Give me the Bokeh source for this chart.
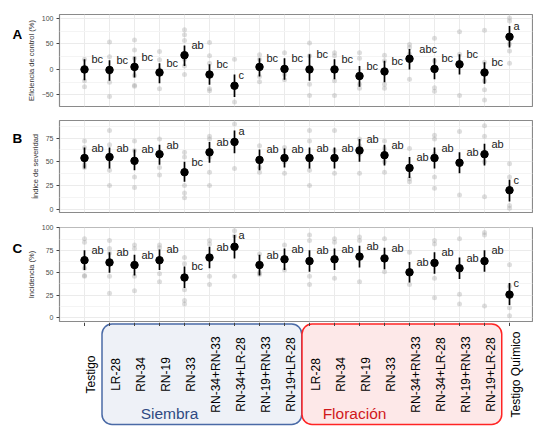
import math
from bokeh.plotting import figure
from bokeh.models import Range1d, FixedTicker, ColumnDataSource
from bokeh.layouts import column, row
from bokeh.embed import file_html
from bokeh.resources import INLINE
from bokeh.core.properties import value

# ---------------- data ----------------
categories = ["Testigo", "LR-28", "RN-34", "RN-19", "RN-33", "RN-34+RN-33", "RN-34+LR-28",
              "RN-19+RN-33", "RN-19+LR-28", "LR-28", "RN-34", "RN-19", "RN-33", "RN-34+RN-33",
              "RN-34+LR-28", "RN-19+RN-33", "RN-19+LR-28", "Testigo Químico"]
group_names = ["Siembra", "Floración"]
group_first = [2, 10]   # 1-based category positions
group_last = [9, 17]

# Panel A: Eficiencia de control (%)
mean_A = [0, -1, 5, -6, 28, -10, -32, 5, 1, 0, 0, -13, -4, 21, 1, 10, -6, 64]
lo_A = [-21, -22, -16, -27, 7, -30, -54, -14, -20, -22, -19, -34, -25, 0, -19, -10, -28, 43]
hi_A = [20, 18, 25, 12, 47, 10, -10, 22, 22, 30, 20, 7, 17, 40, 22, 30, 14, 85]
raw_A = [[20, 5, -4, -22, -34], [54, 25, -6, -25, -53], [58, 38, 22, -12, -31, -33],
         [35, 19, 0, -38], [78, 68, 57, 20, 7, -10], [53, 27, 12, -38, -42], [20, -64],
         [29, 20, 4, -14, -24], [33, 5, -10, -20], [52, 27, -29, -51], [33, 27, -22, -51],
         [33, 22, -29, -37], [28, 17, -29, -37], [49, 43, 30, -19], [61, 17, -36, -43],
         [74, 30, -51], [77, 14, -22, -40, -60], [101, 95, 50, 36, 12]]
let_A = ["bc", "bc", "bc", "bc", "ab", "bc", "c", "bc", "bc", "bc", "bc", "bc", "bc", "abc",
         "bc", "bc", "bc", "a"]

# Panel B: Índice de severidad
mean_B = [54, 55, 51, 58, 39, 60, 71, 52, 54, 54, 54, 62, 57, 43.5, 54, 49, 58, 20]
lo_B = [43, 43, 41, 47, 29, 49, 59, 41, 44, 43, 43, 50, 46, 33, 43, 38, 46, 8]
hi_B = [65, 65, 63, 68, 50, 71, 83, 63, 64, 65, 65, 74, 68, 55, 65, 60, 69, 31]
raw_B = [[72, 65, 47, 44], [83, 68, 56, 41, 25], [72, 62, 34, 23], [74, 60, 44, 36],
         [60, 55, 25, 17, 12], [77, 74, 55, 39, 25], [90, 43], [67, 44, 39], [65, 50, 38],
         [83, 72, 41, 25], [83, 62, 38], [74, 67, 58, 38], [72, 64, 50, 39], [64, 32, 29],
         [78, 74, 58, 34, 22], [82, 48, 15], [88, 77, 50, 13], [48, 34, 4, 1]]
let_B = ["ab", "ab", "ab", "ab", "bc", "ab", "a", "ab", "ab", "ab", "ab", "ab", "ab", "ab",
         "ab", "ab", "ab", "c"]

# Panel C: Incidencia (%)
mean_C = [64, 61.5, 58.6, 64, 44.7, 67, 79, 58.6, 65, 63, 65, 68, 66, 50.5, 61, 55, 63, 25.6]
lo_C = [53, 50, 47, 53, 33, 55, 66, 47, 53, 51, 53, 56, 54, 39, 49, 43, 51, 14]
hi_C = [75, 73, 70, 76, 57, 79, 92, 70, 77, 75, 77, 80, 78, 62, 73, 67, 75, 38.5]
raw_C = [[88, 84, 66, 55, 47, 46], [86, 77, 72, 46, 27], [81, 77, 57, 46, 30], [81, 78, 49, 40],
         [67, 60, 31, 19, 15], [86, 82, 46, 37], [97, 91, 46], [71, 50, 48], [81, 53],
         [92, 86, 46, 37], [88, 84, 44], [90, 86, 40], [88, 51], [73, 37], [86, 82, 44, 22],
         [88, 26, 15], [95, 92, 13], [59, 35, 11, 2]]
let_C = ["ab", "ab", "ab", "ab", "bc", "ab", "a", "ab", "ab", "ab", "ab", "ab", "ab", "ab",
         "ab", "ab", "ab", "c"]

# ---------------- layout ----------------
FONT = "Liberation Sans"
TAG_W = 22
W = 533 - TAG_W
xs = list(range(1, len(categories) + 1))
x_range = Range1d(0, 18.92)


def tag_fig(height, tag, ty):
    t = figure(width=TAG_W, height=height, x_range=Range1d(0, TAG_W),
               y_range=Range1d(height, 0), x_axis_location=None, y_axis_location=None,
               output_backend="svg", toolbar_location=None, min_border=0)
    t.xgrid.visible = False
    t.ygrid.visible = False
    t.outline_line_color = None
    t.text(x=[12], y=[ty], text=[tag], text_align="left", text_baseline="top",
           text_font=value(FONT), text_font_size="13.5px", text_font_style="bold",
           text_color="black")
    return t


def panel(height, top, bottom, yr, ticks, minor, ylabel, mean, lo, hi, raw, letters):
    p = figure(width=W, height=height, x_range=x_range, y_range=Range1d(*yr),
               x_axis_location=None, output_backend="svg", toolbar_location=None,
               min_border_left=59 - TAG_W, min_border_right=1, min_border_top=top,
               min_border_bottom=bottom)
    p.background_fill_color = "white"
    p.border_fill_color = "white"
    p.outline_line_color = "#8a8a8a"
    p.outline_line_width = 1.2
    p.xgrid.ticker = FixedTicker(ticks=xs)
    p.xgrid.grid_line_color = "#ebebeb"
    p.yaxis.ticker = FixedTicker(ticks=ticks, minor_ticks=minor)
    p.ygrid.grid_line_color = "#ebebeb"
    p.ygrid.minor_grid_line_color = "#f4f4f4"
    ax = p.yaxis[0]
    ax.axis_line_color = None
    ax.minor_tick_line_color = None
    ax.major_tick_out = 3
    ax.major_tick_in = 0
    ax.major_tick_line_color = "#444444"
    ax.major_label_text_font = FONT
    ax.major_label_text_font_size = "7px"
    ax.major_label_text_color = "#4d4d4d"
    ax.major_label_standoff = 2
    ax.axis_label = ylabel
    ax.axis_label_text_font = FONT
    ax.axis_label_text_font_size = "7.5px"
    ax.axis_label_text_font_style = "normal"
    ax.axis_label_text_color = "#333333"
    ax.axis_label_standoff = 3

    rx, ry = [], []
    for x, vals in zip(xs, raw):
        for v in vals:
            rx.append(x)
            ry.append(v)
    p.scatter(rx, ry, size=5, fill_color="#9a9a9a", fill_alpha=0.33, line_color=None)
    p.segment(x0=xs, y0=lo, x1=xs, y1=hi, line_color="black", line_width=1.7)
    p.scatter(xs, mean, size=7.5, fill_color="black", line_color="black")
    src = ColumnDataSource(dict(x=xs, y=hi, t=letters,
                                xo=[1 + 0.5 * 5.9 * len(t) for t in letters]))
    p.text(x="x", y="y", text="t", x_offset="xo", source=src, text_align="left",
           text_baseline="middle", text_font=value(FONT), text_font_size="11px",
           text_color="#1a1a1a")
    return p


pA = panel(110, 14, 4, (-72.7, 107.8), [-50, 0, 50, 100], [-75, -25, 25, 75],
           "Eficiencia de control (%)", mean_A, lo_A, hi_A, raw_A, let_A)
pB = panel(104, 10, 2, (-3.5, 93.6), [0, 25, 50, 75], [12.5, 37.5, 62.5, 87.5],
           "Índice de severidad", mean_B, lo_B, hi_B, raw_B, let_B)
pC = panel(108, 13, 1, (-4.4, 100.5), [0, 25, 50, 75, 100], [12.5, 37.5, 62.5, 87.5],
           "Incidencia (%)", mean_C, lo_C, hi_C, raw_C, let_C)

tA = tag_fig(110, "A", 15)
tB = tag_fig(104, "B", 12)
tC = tag_fig(108, "C", 15)

# label strip with treatment groups
DH = 104
pD = figure(width=533, height=DH, x_range=x_range, y_range=Range1d(DH, 0),
            x_axis_location=None, y_axis_location=None, output_backend="svg",
            toolbar_location=None, min_border_left=59, min_border_right=1,
            min_border_top=0, min_border_bottom=0)
pD.xgrid.visible = False
pD.ygrid.visible = False
pD.outline_line_color = None
pD.background_fill_color = "white"
pD.border_fill_color = "white"

box_fill = ["#eef1f7", "#fde8e8"]
box_line = ["#4a6aa6", "#ff2424"]
text_col = ["#2f4a82", "#d0181c"]
label_dx = [2.4, 1.8]
pD.quad(left=[f - 0.3 for f in group_first], right=[l + 0.69 for l in group_last],
        top=[1.5] * 2, bottom=[102] * 2, fill_color=box_fill, line_color=box_line,
        line_width=1.5, border_radius=10)
pD.segment(x0=xs, y0=[0] * len(xs), x1=xs, y1=[3.5] * len(xs), line_color="#444444",
           line_width=1)
pD.text(x=xs, y=[52] * len(xs), text=categories, angle=math.pi / 2, x_offset=6.5,
        text_align="center", text_baseline="middle", text_font=value(FONT),
        text_font_size="12px", text_color="black")
pD.text(x=[f + d for f, d in zip(group_first, label_dx)], y=[91, 91], text=group_names,
        text_align="center", text_baseline="middle", text_font=value(FONT),
        text_font_size="15.5px", text_color=text_col)

layout = column(row(tA, pA, spacing=0), row(tB, pB, spacing=0), row(tC, pC, spacing=0), pD,
                spacing=0)
open("out.html", "w").write(file_html(layout, INLINE))
